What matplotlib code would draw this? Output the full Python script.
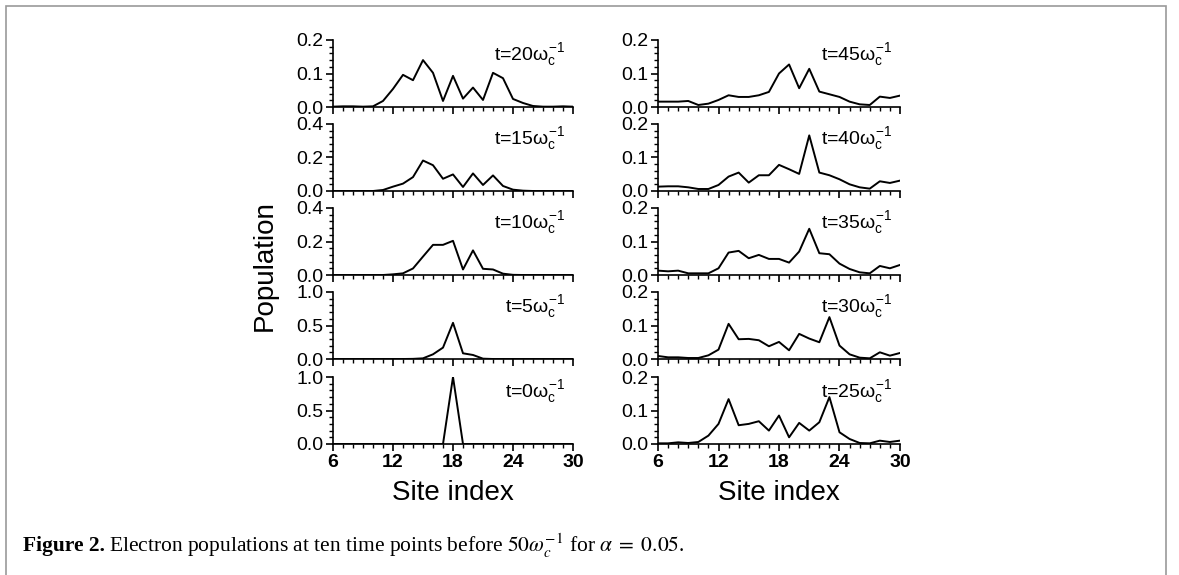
"""
Electron populations at ten time points, stacked panels in two columns.
"""
import matplotlib
matplotlib.use("Agg")
import matplotlib.pyplot as plt
from matplotlib.ticker import AutoMinorLocator, MultipleLocator
from matplotlib.patches import Rectangle

plt.rcParams["font.family"] = ["Liberation Sans", "DejaVu Sans"]
plt.rcParams["mathtext.fontset"] = "custom"
plt.rcParams["mathtext.rm"] = "Liberation Sans"
plt.rcParams["mathtext.it"] = "Liberation Sans"

#site index 6..30
sites = list(range(6, 31))

#left column, values
pop_t20 = [0.001, 0.002, 0.002, 0.001, 0.002, 0.018, 0.054, 0.096, 0.080, 0.140,
           0.102, 0.018, 0.093, 0.025, 0.058, 0.021, 0.102, 0.086, 0.024, 0.012,
           0.003, 0.001, 0.001, 0.002, 0.001]
pop_t15 = [0.0, 0.0, 0.0, 0.0, 0.0, 0.006, 0.026, 0.044, 0.083, 0.182,
           0.154, 0.073, 0.099, 0.024, 0.105, 0.036, 0.093, 0.030, 0.008, 0.002,
           0.0, 0.0, 0.0, 0.0, 0.0]
pop_t10 = [0.0, 0.0, 0.0, 0.0, 0.0, 0.0, 0.004, 0.010, 0.039, 0.110,
           0.180, 0.180, 0.204, 0.033, 0.147, 0.037, 0.033, 0.008, 0.001, 0.0,
           0.0, 0.0, 0.0, 0.0, 0.0]
pop_t5 = [0.0, 0.0, 0.0, 0.0, 0.0, 0.0, 0.0, 0.0, 0.002, 0.010,
          0.070, 0.170, 0.540, 0.085, 0.060, 0.005, 0.0, 0.0, 0.0, 0.0,
          0.0, 0.0, 0.0, 0.0, 0.0]
pop_t0 = [0.0] * 12 + [1.0] + [0.0] * 12

#right column
pop_t45 = [0.016, 0.016, 0.016, 0.018, 0.006, 0.010, 0.021, 0.035, 0.030, 0.030,
           0.035, 0.045, 0.100, 0.127, 0.056, 0.114, 0.046, 0.038, 0.030, 0.016,
           0.008, 0.006, 0.031, 0.027, 0.034]
pop_t40 = [0.013, 0.014, 0.014, 0.011, 0.006, 0.006, 0.018, 0.043, 0.055, 0.025,
           0.047, 0.047, 0.078, 0.065, 0.051, 0.166, 0.055, 0.047, 0.035, 0.020,
           0.011, 0.007, 0.029, 0.024, 0.031]
pop_t35 = [0.013, 0.011, 0.013, 0.005, 0.005, 0.005, 0.020, 0.067, 0.072, 0.050,
           0.060, 0.048, 0.048, 0.037, 0.070, 0.138, 0.065, 0.062, 0.034, 0.018,
           0.008, 0.005, 0.027, 0.020, 0.030]
pop_t30 = [0.009, 0.005, 0.005, 0.003, 0.003, 0.011, 0.028, 0.105, 0.059, 0.060,
           0.056, 0.038, 0.051, 0.026, 0.075, 0.061, 0.050, 0.125, 0.040, 0.014,
           0.004, 0.002, 0.020, 0.010, 0.018]
pop_t25 = [0.002, 0.002, 0.005, 0.003, 0.006, 0.025, 0.060, 0.134, 0.056, 0.060,
           0.068, 0.040, 0.085, 0.020, 0.063, 0.040, 0.065, 0.140, 0.035, 0.015,
           0.003, 0.002, 0.010, 0.006, 0.010]

left_series = [pop_t20, pop_t15, pop_t10, pop_t5, pop_t0]
left_labels = ["20", "15", "10", "5", "0"]
left_ymax = [0.2, 0.4, 0.4, 1.0, 1.0]
right_series = [pop_t45, pop_t40, pop_t35, pop_t30, pop_t25]
right_labels = ["45", "40", "35", "30", "25"]
right_ymax = [0.2, 0.2, 0.2, 0.2, 0.2]

W, H = 1179, 575
fig = plt.figure(figsize=(W / 100, H / 100), dpi=100)

#frame around the figure like the journal page
fig.patches.append(Rectangle((6 / W, -0.01), (1166 - 6) / W, 1.0, transform=fig.transFigure,
                             fill=False, edgecolor="#9a9a9a", linewidth=1.2))

panel_top = [40, 124, 208, 292, 377]
panel_h = 67


def draw_panel(left_px, width_px, top_px, y, ymax, tlabel, bottom):
    ax = fig.add_axes([left_px / W, 1 - (top_px + panel_h) / H, width_px / W, panel_h / H])
    ax.plot(sites, y, color="black", lw=1.4)
    ax.set_xlim(6, 30)
    ax.set_ylim(0, ymax)
    ax.patch.set_alpha(0)
    for s in ["top", "right"]:
        ax.spines[s].set_visible(False)
    ax.spines["left"].set_linewidth(1.2)
    ax.spines["bottom"].set_linewidth(1.2)
    ax.xaxis.set_major_locator(MultipleLocator(6))
    ax.xaxis.set_minor_locator(MultipleLocator(1))
    ax.yaxis.set_major_locator(MultipleLocator(ymax / 2))
    ax.yaxis.set_minor_locator(AutoMinorLocator(5))
    ax.tick_params(axis="both", which="major", direction="out", length=5, width=1.2,
                   labelsize=14, pad=2)
    ax.tick_params(axis="both", which="minor", direction="out", length=3, width=1)
    ax.yaxis.set_major_formatter(plt.FormatStrFormatter("%.1f"))
    if bottom:
        for lab in ax.get_xticklabels():
            lab.set_fontweight("bold")
    else:
        ax.tick_params(axis="x", labelbottom=False)
    ax.text(0.97, 0.98, "t=" + tlabel + r"$\omega_c^{-1}$", transform=ax.transAxes,
            ha="right", va="top", fontsize=14)
    return ax


for i in range(5):
    draw_panel(333, 240, panel_top[i], left_series[i], left_ymax[i], left_labels[i], i == 4)
    draw_panel(658, 242, panel_top[i], right_series[i], right_ymax[i], right_labels[i], i == 4)

fig.text(453 / W, 1 - 493 / H, "Site index", ha="center", va="center", fontsize=20)
fig.text(779 / W, 1 - 493 / H, "Site index", ha="center", va="center", fontsize=20)
fig.text(265 / W, 1 - 266 / H, "Population", ha="center", va="center", rotation=90, fontsize=20)

fig.text(23 / W, 1 - 546 / H, "Figure 2.", ha="left", va="center", fontsize=15.5,
         family="Liberation Serif", weight="bold")
fig.text(109 / W, 1 - 546 / H,
         r"Electron populations at ten time points before $50\omega_c^{-1}$ for $\alpha\;=\;0.05$.",
         ha="left", va="center", fontsize=15.5, family="Liberation Serif",
         math_fontfamily="stix")

fig.savefig("out.png", dpi=100)
